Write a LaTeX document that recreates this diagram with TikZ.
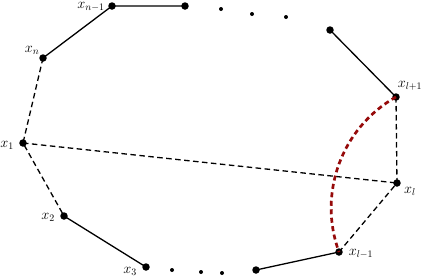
\documentclass[tikz,border=0pt]{standalone}
\usepackage{xcolor}
\definecolor{darkred}{RGB}{150,10,10}
\begin{document}
\begin{tikzpicture}[x=1bp,y=-1bp,
  bigdot/.style={circle,fill=black,inner sep=0pt,minimum size=7.5bp},
  smalldot/.style={circle,fill=black,inner sep=0pt,minimum size=4bp},
  lbl/.style={font=\Large,inner sep=0pt},
  edge/.style={line width=1.3bp},
  dedge/.style={line width=1.3bp,dash pattern=on 5.5bp off 3.5bp},
  redge/.style={line width=2.7bp,draw=darkred,dash pattern=on 5bp off 3.5bp}]
\useasboundingbox (0,0) rectangle (424,277);
\node[bigdot] (xnm) at (112,6) {};
\node[bigdot] (a) at (185,6) {};
\node[smalldot] (d1) at (221,9) {};
\node[smalldot] (d2) at (252,14) {};
\node[smalldot] (d3) at (286,17) {};
\node[bigdot] (b) at (330,30) {};
\node[bigdot] (xlp) at (396,97) {};
\node[bigdot] (xl) at (397,183) {};
\node[bigdot] (xlm) at (339,252) {};
\node[bigdot] (c) at (256,270) {};
\node[smalldot] (d4) at (222,273) {};
\node[smalldot] (d5) at (201,272) {};
\node[smalldot] (d6) at (172,270) {};
\node[bigdot] (x3) at (146,267) {};
\node[bigdot] (x2) at (64,216) {};
\node[bigdot] (x1) at (23,143) {};
\node[bigdot] (xn) at (43,58) {};
% labels
\node[lbl] (lxnm) at (91,7) {$x_{n-1}$};
\node[lbl] (lxn) at (32,50) {$x_n$};
\node[lbl] (lx1) at (7,145) {$x_1$};
\node[lbl] (lx2) at (48,217) {$x_2$};
\node[lbl] (lx3) at (130,271) {$x_3$};
\node[lbl] (lxlp) at (410,86) {$x_{l+1}$};
\node[lbl] (lxl) at (410,191) {$x_l$};
\node[lbl] (lxlm) at (361,254) {$x_{l-1}$};
% edges
\draw[edge] (xn.center) -- (xnm.center) -- (a.center);
\draw[edge] (b.center) -- (xlp.center);
\draw[edge] (xlm.center) -- (c.center);
\draw[edge] (x2.center) -- (x3.center);
\draw[dedge] (xn.center) -- (x1.center) -- (x2.center);
\draw[dedge] (x1.center) -- (xl.center);
\draw[dedge] (xlp.center) -- (xl.center) -- (xlm.center);
\draw[redge] (xlp.center) .. controls (341.6,127.6) and (317.4,193.4) .. (xlm.center);
\end{tikzpicture}
\end{document}
